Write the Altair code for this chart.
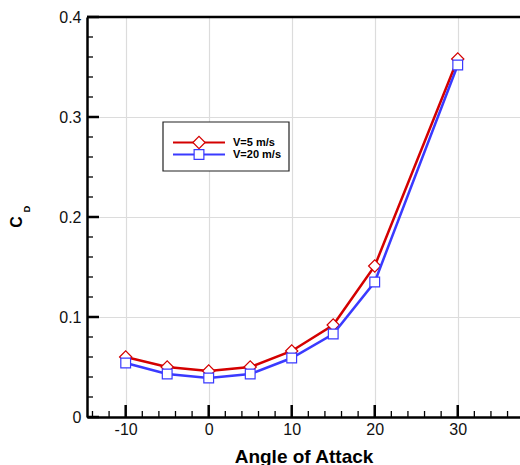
import altair as alt
import pandas as pd

angles = [-10, -5, 0, 5, 10, 15, 20, 30]
cd_v5 = [0.060, 0.050, 0.046, 0.050, 0.066, 0.092, 0.151, 0.358]
cd_v20 = [0.054, 0.043, 0.039, 0.043, 0.059, 0.083, 0.135, 0.352]
series_names = ["V=5 m/s", "V=20 m/s"]

x_major = [-10, 0, 10, 20, 30]
x_minor = [-14, -12, -8, -6, -4, -2, 2, 4, 6, 8, 12, 14, 16, 18, 22, 24, 26, 28, 32, 34, 36]
y_major = [0, 0.1, 0.2, 0.3, 0.4]
y_minor = [0.02, 0.04, 0.06, 0.08, 0.12, 0.14, 0.16, 0.18, 0.22, 0.24, 0.26, 0.28,
           0.32, 0.34, 0.36, 0.38]

RED = "#d40000"
BLUE = "#3a3aff"
FONT = "Liberation Sans"
W, H = 433, 400

xs = alt.Scale(domain=[-14.66, 37.5], nice=False, zero=False)
ys = alt.Scale(domain=[0, 0.4], nice=False, zero=False)

XAXIS = alt.Axis(
    values=x_major, grid=True, gridColor="#dcdcdc", gridWidth=1.2, ticks=False,
    domainColor="black", domainWidth=2.5, labelFont=FONT, labelFontSize=16,
    labelColor="#111", labelPadding=4, title="Angle of Attack", titleFont=FONT,
    titleFontSize=19, titleFontWeight="bold", titleColor="black", titleY=45,
    titleBaseline="alphabetic", labelFlush=False,
    labelExpr="'' + datum.value")
YAXIS = alt.Axis(
    values=y_major, grid=True, gridColor="#dcdcdc", gridWidth=1.2, ticks=False,
    domainColor="black", domainWidth=2.5, labelFont=FONT, labelFontSize=16,
    labelColor="#111", labelPadding=6, title=None, labelFlush=False,
    labelExpr="datum.value == 0 ? '0' : format(datum.value, '.1f')")

def X():
    return alt.X("a:Q", scale=xs, axis=XAXIS)

def Y():
    return alt.Y("cd:Q", scale=ys, axis=YAXIS)

df5 = pd.DataFrame({"a": angles, "cd": cd_v5})
df20 = pd.DataFrame({"a": angles, "cd": cd_v20})

top_border = alt.Chart(pd.DataFrame({"a": [0]})).mark_rule(color="black", strokeWidth=2.5).encode(
    x=alt.value(0), x2=alt.value(W), y=alt.value(0))

def xticks(vals, length, width):
    return alt.Chart(pd.DataFrame({"a": vals})).mark_rule(color="black", strokeWidth=width).encode(
        x=X(), y=alt.value(H), y2=alt.value(H - length))

def yticks(vals, length, width):
    return alt.Chart(pd.DataFrame({"cd": vals})).mark_rule(color="black", strokeWidth=width).encode(
        y=Y(), x=alt.value(0), x2=alt.value(length))

def series(df, color, shape, size):
    line = alt.Chart(df).mark_line(color=color, strokeWidth=2.5).encode(x=X(), y=Y())
    pts = alt.Chart(df).mark_point(shape=shape, size=size, filled=True, fill="white",
                                   stroke=color, strokeWidth=1.2, opacity=1).encode(x=X(), y=Y())
    return line + pts

# legend (manual)
LX0, LY0, LX1, LY1 = 76, 105, 202, 154
leg_box = alt.Chart(pd.DataFrame({"a": [0]})).mark_rect(fill="white", stroke="#222", strokeWidth=1.2).encode(
    x=alt.value(LX0), x2=alt.value(LX1), y=alt.value(LY0), y2=alt.value(LY1))

def leg_entry(ypix, color, shape, size, label):
    d = pd.DataFrame({"label": [label]})
    ln = alt.Chart(d).mark_rule(color=color, strokeWidth=2.2).encode(
        x=alt.value(86), x2=alt.value(138), y=alt.value(ypix))
    pt = alt.Chart(d).mark_point(shape=shape, size=size, filled=True, fill="white",
                                 stroke=color, strokeWidth=1.2, opacity=1).encode(
        x=alt.value(112), y=alt.value(ypix))
    tx = alt.Chart(d).mark_text(align="left", baseline="middle", font=FONT, fontSize=11,
                                fontWeight="bold", color="black").encode(
        x=alt.value(146), y=alt.value(ypix), text="label:N")
    return ln + pt + tx

ytitle_c = alt.Chart(pd.DataFrame({"t": ["C"]})).mark_text(
    angle=270, font=FONT, fontSize=16, fontWeight="bold", color="black",
    align="center", baseline="middle").encode(x=alt.value(-70.5), y=alt.value(205), text="t:N")
ytitle_d = alt.Chart(pd.DataFrame({"t": ["D"]})).mark_text(
    angle=270, font=FONT, fontSize=9.5, fontWeight="bold", color="black",
    align="center", baseline="middle").encode(x=alt.value(-60), y=alt.value(192), text="t:N")

chart = alt.layer(
    top_border,
    xticks(x_minor, 6, 1.3), xticks(x_major, 12, 2.5),
    yticks(y_minor, 6, 1.3), yticks(y_major, 12, 2.5),
    series(df5, RED, "diamond", 150),
    series(df20, BLUE, "square", 95),
    leg_box,
    leg_entry(125.5, RED, "diamond", 150, series_names[0]),
    leg_entry(137.5, BLUE, "square", 95, series_names[1]),
    ytitle_c, ytitle_d,
).properties(
    width=W, height=H,
    autosize=alt.AutoSizeParams(type="none"),
    padding={"left": 87, "top": 17, "right": 0, "bottom": 48},
).configure_view(stroke=None).configure(background="white")

chart.save("out.html", embed_options={"renderer": "svg", "actions": False})
